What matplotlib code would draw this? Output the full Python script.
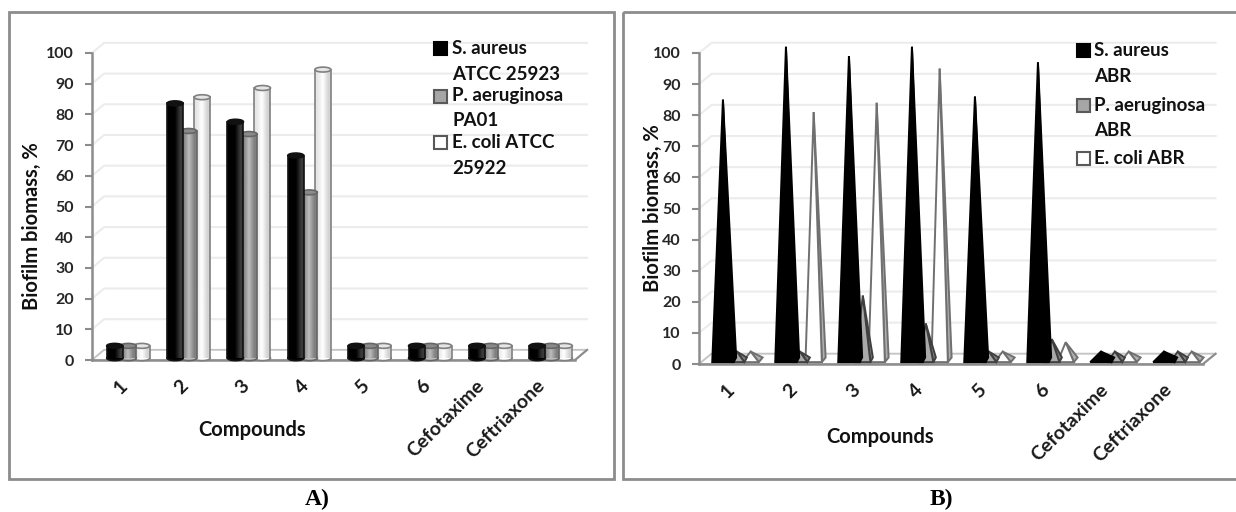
import matplotlib
matplotlib.use('Agg')
import matplotlib.pyplot as plt
import numpy as np
from matplotlib.colors import to_rgb
from matplotlib.patches import Ellipse, Polygon, Rectangle
from matplotlib.transforms import ScaledTranslation

compounds = ['1', '2', '3', '4', '5', '6', 'Cefotaxime', 'Ceftriaxone']

a_aureus = [4, 83, 77, 66, 4, 4, 4, 4]
a_aeruginosa = [4, 74, 73, 54, 4, 4, 4, 4]
a_coli = [4, 85, 88, 94, 4, 4, 4, 4]

b_aureus = [85, 102, 99, 102, 86, 97, 4, 4]
b_aeruginosa = [4, 4, 22, 13, 4, 8, 4, 4]
b_coli = [4, 81, 84, 95, 4, 7, 4, 4]

a_legend = [('S. aureus', 48), ('ATCC 25923', 75), ('P. aeruginosa', 96),
            ('PA01', 120), ('E. coli ATCC', 142), ('25922', 169)]
b_legend = [('S. aureus', 50), ('ABR', 77), ('P. aeruginosa', 105),
            ('ABR', 130), ('E. coli ABR', 158)]

W, H = 1236, 512
FONT = 'Lato'
FRAME = '#8c8c8c'
GRID = '#ececec'


def make_axes(fig, left, right, top, bottom, shift_short):
    ax = fig.add_axes([left / W, 1 - bottom / H, (right - left) / W, (bottom - top) / H])
    ax.patch.set_alpha(0)
    ax.set_xlim(-0.5, 7.5)
    ax.set_ylim(0, 100)
    for side in ['top', 'right']:
        ax.spines[side].set_visible(False)
    for side in ['left', 'bottom']:
        ax.spines[side].set_color(FRAME)
        ax.spines[side].set_linewidth(1.8)
        ax.spines[side].set_zorder(2)
    ax.set_yticks(range(0, 101, 10))
    ax.tick_params(axis='y', length=5, width=1.5, color=FRAME, pad=8)
    ax.tick_params(axis='x', length=0, pad=12)
    ax.set_xticks(range(len(compounds)))
    ax.set_xticklabels(compounds, rotation=45, ha='right', va='top', rotation_mode='anchor',
                       fontsize=14, fontweight='bold', fontname=FONT, color='#1a1a1a')
    # long names sit further left than the digits
    for label in ax.get_xticklabels():
        shift = -9 if len(label.get_text()) > 1 else shift_short
        label.set_transform(label.get_transform() + ScaledTranslation(shift / 100, 0, fig.dpi_scale_trans))
    for label in ax.get_yticklabels():
        label.set_fontsize(11.5)
        label.set_fontname(FONT)
        label.set_fontweight('bold')
        label.set_color('#262626')
    # 3d looking back wall and floor
    dx, dy = 0.2, 3.3
    for v in range(0, 101, 10):
        ax.plot([-0.5, -0.5 + dx, 7.5 + dx], [v, v + dy, v + dy], color=GRID, lw=1.5,
                clip_on=False, zorder=1)
    ax.add_patch(Polygon([(-0.5, 0), (7.5, 0), (7.5 + dx, dy), (-0.5 + dx, dy)], closed=True,
                         facecolor='white', edgecolor='#c4c4c4', lw=1.3, clip_on=False, zorder=1.5))
    ax.plot([7.5, 7.5 + dx], [0, dy], color=FRAME, lw=1.5, clip_on=False, zorder=2)
    return ax


def cylinder(ax, x, value, width, colors, edge, cap, zorder):
    base = 0.6
    cap_h = 1.6
    grad = np.array([to_rgb(c) for c in colors])[np.newaxis, :, :]
    ax.add_patch(Ellipse((x, base), width, cap_h, facecolor=colors[1], edgecolor=edge, lw=1.2,
                         clip_on=False, zorder=zorder))
    ax.imshow(grad, extent=(x - width / 2, x + width / 2, base, base + value), aspect='auto',
              interpolation='bilinear', zorder=zorder + 0.1)
    ax.plot([x - width / 2, x - width / 2], [base, base + value], color=edge, lw=1.2, zorder=zorder + 0.2)
    ax.plot([x + width / 2, x + width / 2], [base, base + value], color=edge, lw=1.2, zorder=zorder + 0.2)
    ax.add_patch(Ellipse((x, base + value), width, cap_h, facecolor=cap, edgecolor=edge, lw=1.2,
                         clip_on=False, zorder=zorder + 0.3))


def pyramid(ax, x, value, half, reach, front, side, edge, zorder):
    base = 0.6
    ax.add_patch(Polygon([(x + half, base), (x, value), (x + reach, base + 1.5)], closed=True,
                         facecolor=side, edgecolor=edge, lw=1.4, clip_on=False, zorder=zorder))
    ax.add_patch(Polygon([(x - half, base), (x, value), (x + half, base)], closed=True,
                         facecolor=front, edgecolor=edge, lw=1.4, clip_on=False, zorder=zorder + 0.1))


def legend(over, labels, square_x, text_x, squares):
    styles = [('black', 'black'), ('#a6a6a6', '#595959'), ('white', '#595959')]
    for y, (face, edge) in zip(squares, styles):
        over.add_patch(Rectangle((square_x, y - 6.5), 13, 13, facecolor=face, edgecolor=edge, lw=1.5))
    for text, y in labels:
        over.text(text_x, y, text, fontsize=13.5, fontweight='bold', fontname=FONT,
                  ha='left', va='center', color='#111111')


fig = plt.figure(figsize=(W / 100, H / 100), dpi=100)

over = fig.add_axes([0, 0, 1, 1])
over.set_xlim(0, W)
over.set_ylim(H, 0)
over.axis('off')
over.set_zorder(5)
over.patch.set_alpha(0)
for x0, x1 in [(9, 614), (623, 1242)]:
    over.add_patch(Rectangle((x0, 12), x1 - x0, 467, fill=False, edgecolor=FRAME, lw=2))

# panel A
ax_a = make_axes(fig, 92, 575, 53, 360, -3)
a_styles = [
    (a_aureus, ['#000000', '#000000', '#3a3a3a'], '#111111', '#111111', 5),
    (a_aeruginosa, ['#808080', '#bdbdbd', '#808080'], '#666666', '#8a8a8a', 4),
    (a_coli, ['#e6e6e6', '#ffffff', '#d4d4d4'], '#808080', '#e6e6e6', 3),
]
for offset, (values, colors, edge, cap, z) in zip([-0.124, 0.1, 0.324], a_styles):
    for i, v in enumerate(values):
        cylinder(ax_a, i + offset, v, 0.265, colors, edge, cap, z)
ax_a.set_xlim(-0.5, 7.5)
ax_a.set_ylim(0, 100)

# panel B
ax_b = make_axes(fig, 699, 1203, 53, 364, -5)
b_styles = [
    (b_aureus, 0.17, 0.21, 'black', 'black', 'black', 5),
    (b_aeruginosa, 0.12, 0.16, '#a9a9a9', '#808080', '#404040', 4),
    (b_coli, 0.13, 0.19, 'white', '#b0b0b0', '#707070', 3),
]
for offset, (values, half, reach, front, side, edge, z) in zip([-0.12, 0.1, 0.32], b_styles):
    for i, v in enumerate(values):
        pyramid(ax_b, i + offset, v, half, reach, front, side, edge, z)

over.text(32, 226, 'Biofilm biomass, %', rotation=90, fontsize=14.5, fontweight='bold',
          fontname=FONT, ha='center', va='center', color='#111111')
over.text(252, 430, 'Compounds', fontsize=14.5, fontweight='bold', fontname=FONT,
          ha='center', va='center', color='#111111')
over.text(653, 208, 'Biofilm biomass, %', rotation=90, fontsize=14.5, fontweight='bold',
          fontname=FONT, ha='center', va='center', color='#111111')
over.text(880, 437, 'Compounds', fontsize=14.5, fontweight='bold', fontname=FONT,
          ha='center', va='center', color='#111111')

legend(over, a_legend, 433.5, 452, [48, 96, 142])
legend(over, b_legend, 1077, 1094, [50, 105, 158])

over.text(317.5, 499, 'A)', fontsize=17, fontweight='bold', fontname='Liberation Serif',
          ha='center', va='center')
over.text(941, 499, 'B)', fontsize=17, fontweight='bold', fontname='Liberation Serif',
          ha='center', va='center')

fig.savefig('out.png', dpi=100)
